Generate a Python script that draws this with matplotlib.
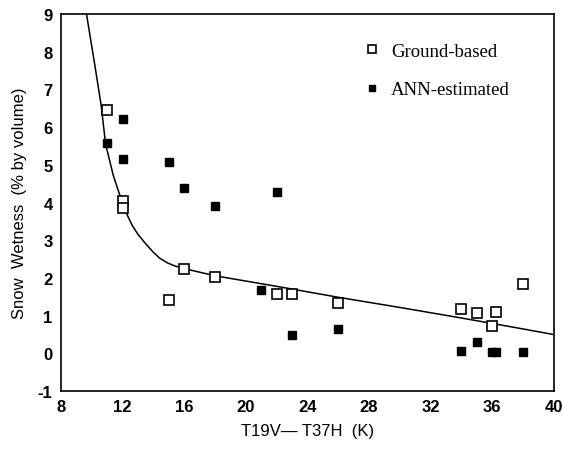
import matplotlib
matplotlib.use("Agg")
import matplotlib.pyplot as plt

# Ground-based (open squares)
ground_x = [11, 12, 12, 15, 16, 18, 22, 23, 26, 34, 35, 36, 36.25, 38]
ground_y = [6.45, 4.04, 3.86, 1.41, 2.25, 2.03, 1.57, 1.57, 1.33, 1.17, 1.06, 0.72, 1.10, 1.85]

# ANN-estimated (filled squares)
ann_x = [11, 12, 12, 15, 16, 18, 21, 22, 23, 26, 34, 35, 36, 36.25, 38]
ann_y = [5.59, 6.21, 5.16, 5.07, 4.39, 3.92, 1.68, 4.28, 0.49, 0.64, 0.07, 0.30, 0.04, 0.03, 0.05]

# Fitted curve
curve_x = [9.66, 10.2, 10.62, 10.9, 11.4, 11.92, 12.34, 12.65, 13.0, 13.5, 13.96, 14.4, 14.92, 15.4,
           16.0, 18.0, 22.0, 26.0, 30.0, 34.0, 38.0, 40.0]
curve_y = [9.0, 7.65, 6.56, 5.55, 4.72, 4.08, 3.64, 3.38, 3.16, 2.91, 2.70, 2.53, 2.40, 2.32,
           2.25, 2.06, 1.78, 1.49, 1.22, 0.94, 0.65, 0.50]

x_ticks = [8, 12, 16, 20, 24, 28, 32, 36, 40]
y_ticks = [-1, 0, 1, 2, 3, 4, 5, 6, 7, 8, 9]

plt.rcParams['font.family'] = ['Liberation Sans', 'DejaVu Sans']
plt.rcParams['axes.unicode_minus'] = False

fig = plt.figure(figsize=(5.64, 4.56), dpi=100)
ax = fig.add_axes([0.108, 0.140, 0.874, 0.827])

ax.plot(curve_x, curve_y, color='black', lw=1.1, zorder=2)
ax.plot(ground_x, ground_y, linestyle='none', marker='s', markersize=7,
        markerfacecolor='white', markeredgecolor='black', markeredgewidth=1.2,
        label='Ground-based', zorder=3)
ax.plot(ann_x, ann_y, linestyle='none', marker='s', markersize=6,
        markerfacecolor='black', markeredgecolor='black',
        label='ANN-estimated', zorder=3)

ax.set_xlim(8, 40)
ax.set_ylim(-1, 9)
ax.set_xticks(x_ticks)
ax.set_yticks(y_ticks)
ax.tick_params(length=0, labelsize=12, pad=6)
for lab in ax.get_xticklabels() + ax.get_yticklabels():
    lab.set_fontweight('bold')
for s in ax.spines.values():
    s.set_linewidth(1.2)

ax.set_xlabel('T19V\u2014 T37H  (K)', fontsize=12, labelpad=6)
ax.set_ylabel('Snow  Wetness  (% by volume)', fontsize=12, labelpad=8)

leg = ax.legend(loc='upper left', bbox_to_anchor=(0.578, 0.969), frameon=False,
                prop={'family': 'Liberation Serif', 'size': 13.5},
                markerscale=0.75, handlelength=1.0, handletextpad=0.5,
                labelspacing=1.15)

fig.savefig('out.png', dpi=100)
